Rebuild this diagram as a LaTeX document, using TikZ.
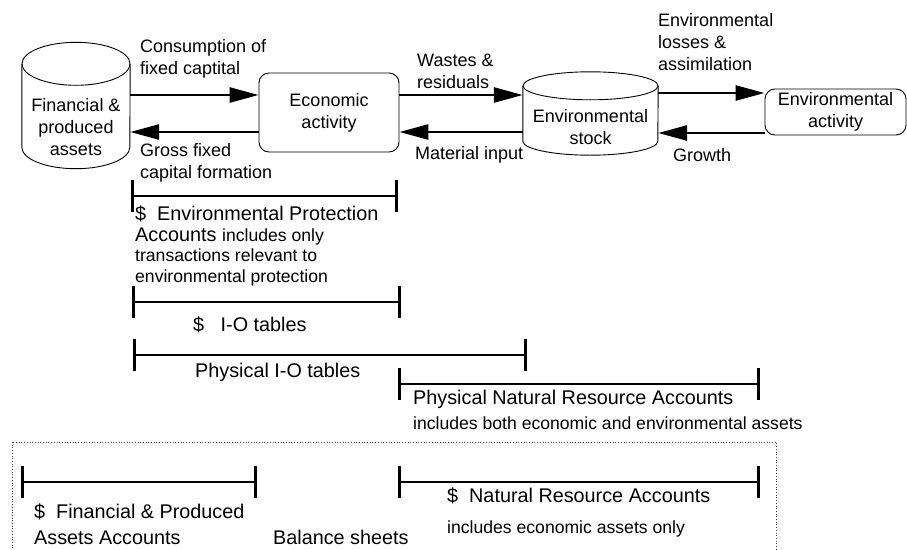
\documentclass[tikz,border=0pt]{standalone}
\usepackage{fontspec}
\setmainfont{Liberation Sans}
\usetikzlibrary{arrows.meta,positioning}

% smaller remark text inside the account labels
\newcommand{\subtxt}[1]{{\fontsize{17.6}{20.7}\selectfont #1}}
% cylinder outline round a (borderless) node: name, x radius, y radius
\newcommand{\drum}[3]{%
  \draw[line width=0.9pt] ([yshift=#3]#1.north) ellipse[x radius=#2, y radius=#3];
  \draw[line width=0.9pt] ([yshift=#3]#1.north west) -- ([yshift=#3]#1.south west)
    arc[start angle=180, end angle=360, x radius=#2, y radius=#3] -- ([yshift=#3]#1.north east);
}

\begin{document}
\begin{tikzpicture}[
  x=1pt, y=-1pt,
  font=\fontsize{18}{22}\selectfont,
  flow/.style  ={-{Triangle[length=29pt,width=15pt]}, line width=2.6pt},
  span/.style  ={{Bar[width=32pt]}-{Bar[width=32pt]}, line width=2.6pt},
  actbox/.style={draw, line width=0.9pt, rounded corners=10pt, align=center, inner sep=0pt},
  stock/.style ={align=center, inner sep=0pt},
  lbl/.style   ={align=left, inner sep=0pt, anchor=west},
  acc/.style   ={lbl, font=\fontsize{19.8}{20.7}\selectfont},
]
\useasboundingbox (0,0) rectangle (907,549);
\clip (0,0) rectangle (907,549);

%% ---------------- stocks and activities ----------------
\node[stock, minimum width=108pt, minimum height=83pt] (fin) at (76,127)
  {Financial \&\\produced\\assets};
\drum{fin}{54pt}{21.5pt}

\node[actbox, minimum width=140pt, minimum height=79pt] (econ) at (329,112.5)
  {Economic\\activity};

\node[stock, minimum width=135pt, minimum height=55pt] (env) at (590.5,127.5)
  {Environmental\\stock};
\drum{env}{67.5pt}{14pt}

\node[actbox, minimum width=141pt, minimum height=46pt] (nat) at (835.5,112)
  {Environmental\\activity};

%% ---------------- flows ----------------
\draw[flow] (fin.east |- 0,95) -- (econ.west |- 0,95);
\draw[flow] (econ.west |- 0,132) -- (fin.east |- 0,132);
\draw[flow] (econ.east |- 0,95) -- (env.west |- 0,95);
\draw[flow] (env.west |- 0,132) -- (econ.east |- 0,132);
\draw[flow] (env.east |- 0,93) -- (nat.west |- 0,93);
\draw[flow] (nat.west |- 0,133) -- (env.east |- 0,133);

\node[lbl] (cons)  at (140,58.5)  {Consumption of\\fixed captital};
\node[lbl] (gfcf)  at (140,162.5) {Gross fixed\\capital formation};
\node[lbl] (waste) at (417,71.5)  {Wastes \&\\residuals};
\node[lbl] (matin) at (415,155)   {Material input};
\node[lbl] (loss)  at (658,42)    {Environmental\\losses \&\\assimilation};
\node[lbl] (grow)  at (673,155)   {Growth};

%% ---------------- account coverage ----------------
\draw[span] (131,196) -- (398,196);
\node[acc] (epa) at (135,246) {\$~ Environmental Protection\\
  Accounts \subtxt{includes only}\\ \subtxt{transactions relevant to}\\
  \subtxt{environmental protection}};

\draw[span] (132,302) -- (401,302);
\node[acc] (io) at (193,325) {\$~~ I-O tables};

\draw[span] (133,355) -- (527,355);
\node[acc] (pio) at (195,372) {Physical I-O tables};

\draw[span] (398,384) -- (760,384);
\node[acc] (pnra) at (413,410) {Physical Natural Resource Accounts\\[5pt]
  \subtxt{includes both economic and environmental assets}};

%% ---------------- balance sheets ----------------
\draw[dotted, line width=0.7pt, black!75] (12,442) rectangle (776,570);

\draw[span] (21,482) -- (257,482);
\node[acc] (fpa) at (34,524) {\$~ Financial \& Produced\\[5pt]Assets Accounts};

\node[acc] (bal) at (273,537.5) {Balance sheets};

\draw[span] (398,482) -- (760,482);
\node[acc] (nra) at (447,512.5) {\$~ Natural Resource Accounts\\[10pt]
  \subtxt{includes economic assets only}};

\end{tikzpicture}
\end{document}
